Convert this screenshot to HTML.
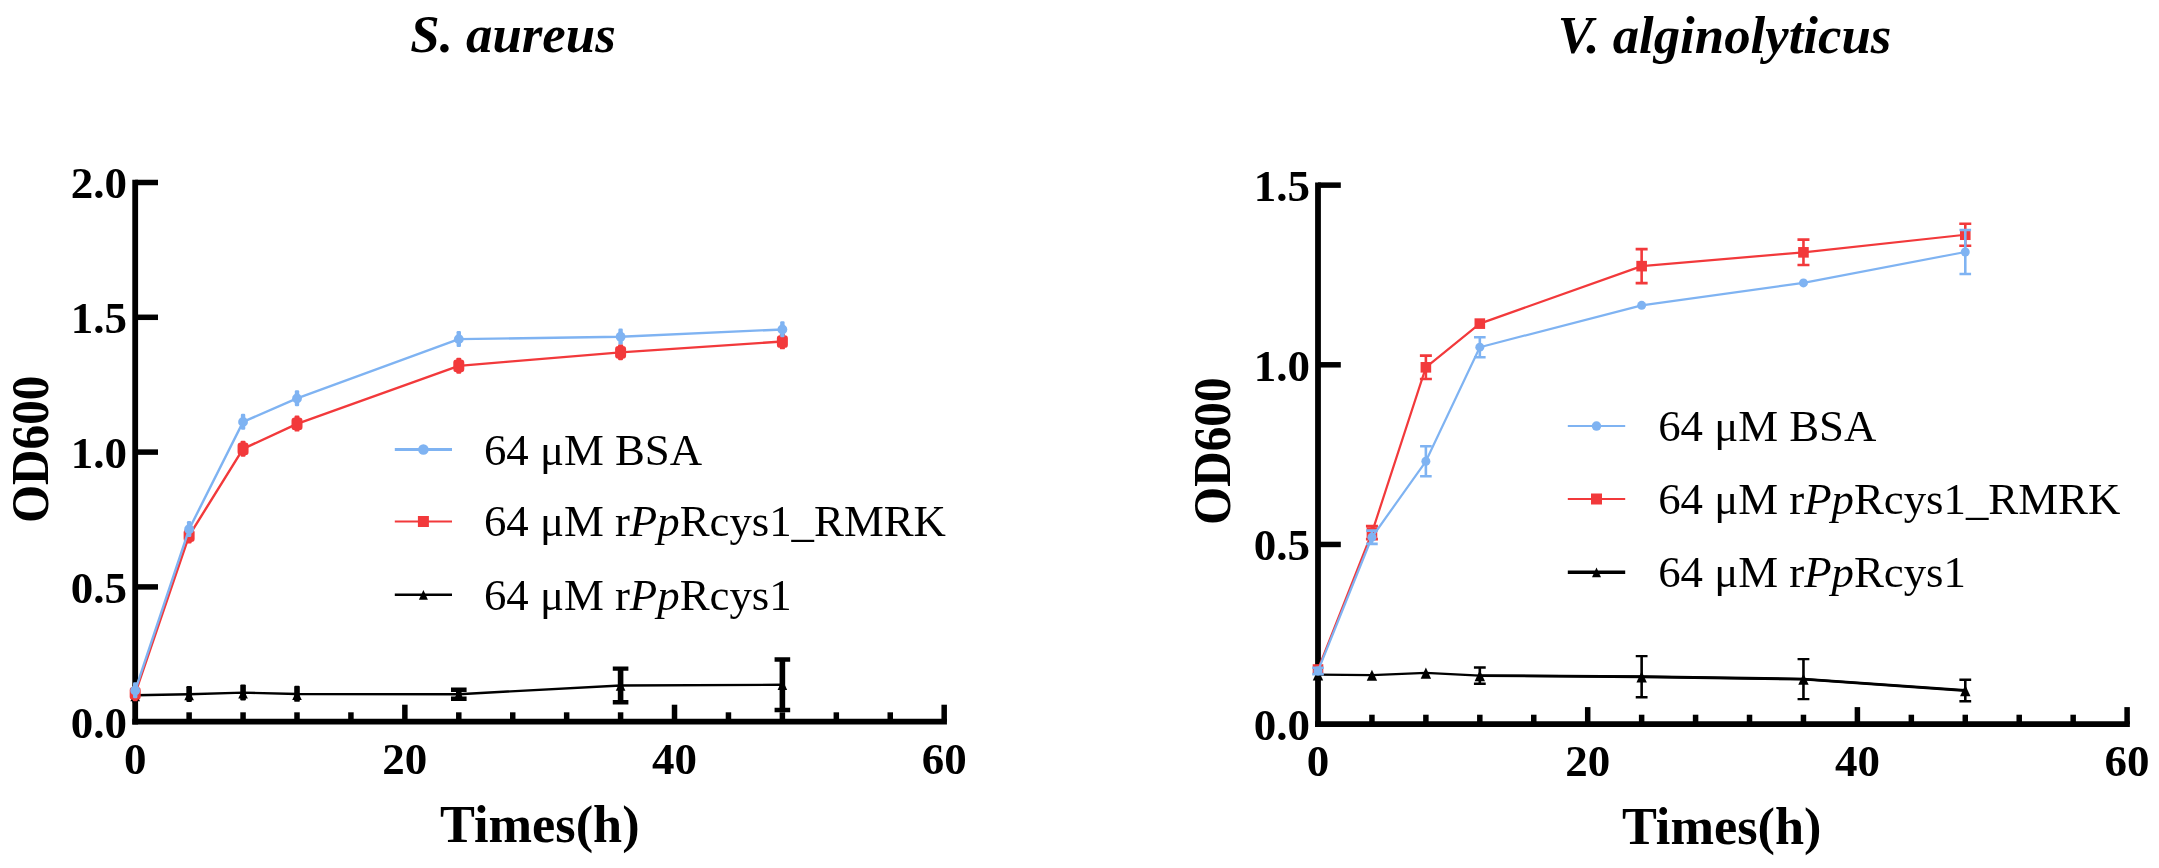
<!DOCTYPE html>
<html lang="en">
<head>
<meta charset="utf-8">
<title>Growth curves</title>
<style>
html,body{margin:0;padding:0;background:#fff;}
body{width:2159px;height:868px;overflow:hidden;}
svg{display:block;filter:blur(0.65px);}
svg text{font-family:"Liberation Serif","Times New Roman",serif;fill:#000;}
</style>
</head>
<body>
<svg width="2159" height="868" viewBox="0 0 2159 868">
<rect width="2159" height="868" fill="#fff"/>

<g id="left-chart">
<text x="513" y="52.2" font-size="52.8" font-weight="bold" font-style="italic" text-anchor="middle">S. aureus</text>
<line x1="135.2" y1="179.75" x2="135.2" y2="724.6" stroke="#000" stroke-width="5.8"/>
<line x1="132.3" y1="721.7" x2="946.93" y2="721.7" stroke="#000" stroke-width="5.8"/>
<line x1="135.2" y1="586.9" x2="158" y2="586.9" stroke="#000" stroke-width="5.5"/>
<line x1="135.2" y1="452.1" x2="158" y2="452.1" stroke="#000" stroke-width="5.5"/>
<line x1="135.2" y1="317.3" x2="158" y2="317.3" stroke="#000" stroke-width="5.5"/>
<line x1="135.2" y1="182.5" x2="158" y2="182.5" stroke="#000" stroke-width="5.5"/>
<line x1="189.13" y1="721.7" x2="189.13" y2="712.3" stroke="#000" stroke-width="5.5"/>
<line x1="243.06" y1="721.7" x2="243.06" y2="712.3" stroke="#000" stroke-width="5.5"/>
<line x1="297" y1="721.7" x2="297" y2="712.3" stroke="#000" stroke-width="5.5"/>
<line x1="350.93" y1="721.7" x2="350.93" y2="712.3" stroke="#000" stroke-width="5.5"/>
<line x1="404.86" y1="721.7" x2="404.86" y2="704.7" stroke="#000" stroke-width="5.5"/>
<line x1="458.79" y1="721.7" x2="458.79" y2="712.3" stroke="#000" stroke-width="5.5"/>
<line x1="512.72" y1="721.7" x2="512.72" y2="712.3" stroke="#000" stroke-width="5.5"/>
<line x1="566.66" y1="721.7" x2="566.66" y2="712.3" stroke="#000" stroke-width="5.5"/>
<line x1="620.59" y1="721.7" x2="620.59" y2="712.3" stroke="#000" stroke-width="5.5"/>
<line x1="674.52" y1="721.7" x2="674.52" y2="704.7" stroke="#000" stroke-width="5.5"/>
<line x1="728.45" y1="721.7" x2="728.45" y2="712.3" stroke="#000" stroke-width="5.5"/>
<line x1="782.38" y1="721.7" x2="782.38" y2="712.3" stroke="#000" stroke-width="5.5"/>
<line x1="836.32" y1="721.7" x2="836.32" y2="712.3" stroke="#000" stroke-width="5.5"/>
<line x1="890.25" y1="721.7" x2="890.25" y2="712.3" stroke="#000" stroke-width="5.5"/>
<line x1="944.18" y1="721.7" x2="944.18" y2="704.7" stroke="#000" stroke-width="5.5"/>
<polyline points="135.2,695.28 189.13,694.2 243.06,692.58 297,694.07 458.79,694.2 620.59,685.44 782.38,684.76" fill="none" stroke="#000000" stroke-width="2.4" stroke-linejoin="round"/>
<rect x="132.4" y="687.08" width="5.6" height="16" rx="1.2" fill="#000000"/><path d="M135.2 691.28L140 701.28H130.4Z" fill="#000000"/>
<rect x="186.33" y="686" width="5.6" height="16" rx="1.2" fill="#000000"/><path d="M189.13 690.2L193.93 700.2H184.33Z" fill="#000000"/>
<rect x="240.26" y="684.38" width="5.6" height="16" rx="1.2" fill="#000000"/><path d="M243.06 688.58L247.86 698.58H238.26Z" fill="#000000"/>
<rect x="294.2" y="685.87" width="5.6" height="16" rx="1.2" fill="#000000"/><path d="M297 690.07L301.8 700.07H292.2Z" fill="#000000"/>
<path d="M458.79 689.7V698.7" fill="none" stroke="#000000" stroke-width="5.6"/><path d="M450.99 689.7H466.59M450.99 698.7H466.59" fill="none" stroke="#000000" stroke-width="4.4"/>
<path d="M458.79 689.21L463.59 699.48H453.99Z" fill="#000000"/>
<path d="M620.59 668.64V702.24" fill="none" stroke="#000000" stroke-width="5.6"/><path d="M612.79 668.64H628.39M612.79 702.24H628.39" fill="none" stroke="#000000" stroke-width="4.4"/>
<path d="M620.59 680.45L625.39 690.72H615.79Z" fill="#000000"/>
<path d="M782.38 659.56V709.96" fill="none" stroke="#000000" stroke-width="5.6"/><path d="M774.58 659.56H790.18M774.58 709.96H790.18" fill="none" stroke="#000000" stroke-width="4.4"/>
<path d="M782.38 679.77L787.18 690.04H777.58Z" fill="#000000"/>
<polyline points="135.2,693.39 189.13,535.68 243.06,448.86 297,423.79 458.79,365.83 620.59,352.35 782.38,341.56" fill="none" stroke="#f2393b" stroke-width="2.4" stroke-linejoin="round"/>
<rect x="132.7" y="685.19" width="5" height="16" rx="1.2" fill="#f2393b"/><rect x="129.7" y="687.09" width="11" height="12.6" rx="3.2" fill="#f2393b"/>
<rect x="186.63" y="527.48" width="5" height="16" rx="1.2" fill="#f2393b"/><rect x="183.63" y="529.38" width="11" height="12.6" rx="3.2" fill="#f2393b"/>
<rect x="240.56" y="440.66" width="5" height="16" rx="1.2" fill="#f2393b"/><rect x="237.56" y="442.56" width="11" height="12.6" rx="3.2" fill="#f2393b"/>
<rect x="294.5" y="415.59" width="5" height="16" rx="1.2" fill="#f2393b"/><rect x="291.5" y="417.49" width="11" height="12.6" rx="3.2" fill="#f2393b"/>
<rect x="456.29" y="357.63" width="5" height="16" rx="1.2" fill="#f2393b"/><rect x="453.29" y="359.53" width="11" height="12.6" rx="3.2" fill="#f2393b"/>
<rect x="618.09" y="344.15" width="5" height="16" rx="1.2" fill="#f2393b"/><rect x="615.09" y="346.05" width="11" height="12.6" rx="3.2" fill="#f2393b"/>
<rect x="779.88" y="333.36" width="5" height="16" rx="1.2" fill="#f2393b"/><rect x="776.88" y="335.26" width="11" height="12.6" rx="3.2" fill="#f2393b"/>
<polyline points="135.2,690.43 189.13,529.21 243.06,421.9 297,398.45 458.79,339.14 620.59,336.71 782.38,329.43" fill="none" stroke="#7fb3f2" stroke-width="2.4" stroke-linejoin="round"/>
<rect x="133" y="682.23" width="4.4" height="16" rx="1.2" fill="#7fb3f2"/><circle cx="135.2" cy="690.43" r="4.9" fill="#7fb3f2"/>
<rect x="186.93" y="521.01" width="4.4" height="16" rx="1.2" fill="#7fb3f2"/><circle cx="189.13" cy="529.21" r="4.9" fill="#7fb3f2"/>
<rect x="240.86" y="413.7" width="4.4" height="16" rx="1.2" fill="#7fb3f2"/><circle cx="243.06" cy="421.9" r="4.9" fill="#7fb3f2"/>
<rect x="294.8" y="390.25" width="4.4" height="16" rx="1.2" fill="#7fb3f2"/><circle cx="297" cy="398.45" r="4.9" fill="#7fb3f2"/>
<rect x="456.59" y="330.94" width="4.4" height="16" rx="1.2" fill="#7fb3f2"/><circle cx="458.79" cy="339.14" r="4.9" fill="#7fb3f2"/>
<rect x="618.39" y="328.51" width="4.4" height="16" rx="1.2" fill="#7fb3f2"/><circle cx="620.59" cy="336.71" r="4.9" fill="#7fb3f2"/>
<rect x="780.18" y="321.23" width="4.4" height="16" rx="1.2" fill="#7fb3f2"/><circle cx="782.38" cy="329.43" r="4.9" fill="#7fb3f2"/>
<text x="127" y="737.5" font-size="45" font-weight="bold" text-anchor="end">0.0</text>
<text x="127" y="602.7" font-size="45" font-weight="bold" text-anchor="end">0.5</text>
<text x="127" y="467.9" font-size="45" font-weight="bold" text-anchor="end">1.0</text>
<text x="127" y="333.1" font-size="45" font-weight="bold" text-anchor="end">1.5</text>
<text x="127" y="198.3" font-size="45" font-weight="bold" text-anchor="end">2.0</text>
<text x="135.2" y="773.6" font-size="45" font-weight="bold" text-anchor="middle">0</text>
<text x="404.86" y="773.6" font-size="45" font-weight="bold" text-anchor="middle">20</text>
<text x="674.52" y="773.6" font-size="45" font-weight="bold" text-anchor="middle">40</text>
<text x="944.18" y="773.6" font-size="45" font-weight="bold" text-anchor="middle">60</text>
<text x="539.8" y="841.6" font-size="52.3" font-weight="bold" text-anchor="middle">Times(h)</text>
<text transform="translate(48 449.4) rotate(-90) scale(0.936 1)" font-size="52.5" font-weight="bold" text-anchor="middle">OD600</text>
<line x1="394.8" y1="449.5" x2="452" y2="449.5" stroke="#7fb3f2" stroke-width="3"/>
<circle cx="423.4" cy="449.5" r="5.25" fill="#7fb3f2"/>
<text x="483.9" y="464.5" font-size="44.8">64 μM BSA</text>
<line x1="394.8" y1="521.5" x2="452" y2="521.5" stroke="#f2393b" stroke-width="2.2"/>
<rect x="417.9" y="516" width="11" height="11" fill="#f2393b"/>
<text x="483.9" y="536.3" font-size="44.8">64 μM r<tspan font-style="italic">Pp</tspan>Rcys1_RMRK</text>
<line x1="394.8" y1="594.8" x2="452" y2="594.8" stroke="#000000" stroke-width="2.6"/>
<path d="M423.4 590.12L427.9 599.75H418.9Z" fill="#000000"/>
<text x="483.9" y="610.2" font-size="44.8">64 μM r<tspan font-style="italic">Pp</tspan>Rcys1</text>
</g>
<g id="right-chart">
<text x="1724.6" y="52.5" font-size="52.8" font-weight="bold" font-style="italic" text-anchor="middle">V. alginolyticus</text>
<line x1="1318" y1="182.4" x2="1318" y2="727" stroke="#000" stroke-width="5.8"/>
<line x1="1315.1" y1="724.1" x2="2129.85" y2="724.1" stroke="#000" stroke-width="5.8"/>
<line x1="1318" y1="544.45" x2="1340.8" y2="544.45" stroke="#000" stroke-width="5.5"/>
<line x1="1318" y1="364.8" x2="1340.8" y2="364.8" stroke="#000" stroke-width="5.5"/>
<line x1="1318" y1="185.15" x2="1340.8" y2="185.15" stroke="#000" stroke-width="5.5"/>
<line x1="1371.94" y1="724.1" x2="1371.94" y2="714.7" stroke="#000" stroke-width="5.5"/>
<line x1="1425.88" y1="724.1" x2="1425.88" y2="714.7" stroke="#000" stroke-width="5.5"/>
<line x1="1479.82" y1="724.1" x2="1479.82" y2="714.7" stroke="#000" stroke-width="5.5"/>
<line x1="1533.76" y1="724.1" x2="1533.76" y2="714.7" stroke="#000" stroke-width="5.5"/>
<line x1="1587.7" y1="724.1" x2="1587.7" y2="707.1" stroke="#000" stroke-width="5.5"/>
<line x1="1641.64" y1="724.1" x2="1641.64" y2="714.7" stroke="#000" stroke-width="5.5"/>
<line x1="1695.58" y1="724.1" x2="1695.58" y2="714.7" stroke="#000" stroke-width="5.5"/>
<line x1="1749.52" y1="724.1" x2="1749.52" y2="714.7" stroke="#000" stroke-width="5.5"/>
<line x1="1803.46" y1="724.1" x2="1803.46" y2="714.7" stroke="#000" stroke-width="5.5"/>
<line x1="1857.4" y1="724.1" x2="1857.4" y2="707.1" stroke="#000" stroke-width="5.5"/>
<line x1="1911.34" y1="724.1" x2="1911.34" y2="714.7" stroke="#000" stroke-width="5.5"/>
<line x1="1965.28" y1="724.1" x2="1965.28" y2="714.7" stroke="#000" stroke-width="5.5"/>
<line x1="2019.22" y1="724.1" x2="2019.22" y2="714.7" stroke="#000" stroke-width="5.5"/>
<line x1="2073.16" y1="724.1" x2="2073.16" y2="714.7" stroke="#000" stroke-width="5.5"/>
<line x1="2127.1" y1="724.1" x2="2127.1" y2="707.1" stroke="#000" stroke-width="5.5"/>
<polyline points="1479.82,675.59 1641.64,676.71 1803.46,679.12 1965.28,690.51" fill="none" stroke="#000" stroke-width="2.9"/>
<polyline points="1318,674.7 1371.94,675.06 1425.88,672.97 1479.82,675.59 1641.64,676.71 1803.46,679.12 1965.28,690.51" fill="none" stroke="#000000" stroke-width="2.2" stroke-linejoin="round"/>
<path d="M1318 669.29L1323.2 680.42H1312.8Z" fill="#000000"/>
<path d="M1371.94 669.65L1377.14 680.78H1366.74Z" fill="#000000"/>
<path d="M1425.88 667.56L1431.08 678.69H1420.68Z" fill="#000000"/>
<path d="M1479.82 667.49V683.69" fill="none" stroke="#000000" stroke-width="2.6"/><path d="M1473.92 667.49H1485.72M1473.92 683.69H1485.72" fill="none" stroke="#000000" stroke-width="2.4"/>
<path d="M1479.82 670.19L1485.02 681.31H1474.62Z" fill="#000000"/>
<path d="M1641.64 656.11V697.31" fill="none" stroke="#000000" stroke-width="2.6"/><path d="M1635.74 656.11H1647.54M1635.74 697.31H1647.54" fill="none" stroke="#000000" stroke-width="2.4"/>
<path d="M1641.64 671.3L1646.84 682.43H1636.44Z" fill="#000000"/>
<path d="M1803.46 659.12V699.12" fill="none" stroke="#000000" stroke-width="2.6"/><path d="M1797.56 659.12H1809.36M1797.56 699.12H1809.36" fill="none" stroke="#000000" stroke-width="2.4"/>
<path d="M1803.46 673.71L1808.66 684.84H1798.26Z" fill="#000000"/>
<path d="M1965.28 679.81V701.21" fill="none" stroke="#000000" stroke-width="2.6"/><path d="M1959.38 679.81H1971.18M1959.38 701.21H1971.18" fill="none" stroke="#000000" stroke-width="2.4"/>
<path d="M1965.28 685.1L1970.48 696.23H1960.08Z" fill="#000000"/>
<polyline points="1318,669.49 1371.94,532.59 1425.88,367.32 1479.82,323.62 1641.64,266.14 1803.46,252.34 1965.28,234.73" fill="none" stroke="#f2393b" stroke-width="2.2" stroke-linejoin="round"/>
<rect x="1312.7" y="664.19" width="10.6" height="10.6" fill="#f2393b"/>
<path d="M1371.94 526.09V539.09" fill="none" stroke="#f2393b" stroke-width="2.6"/><path d="M1365.94 526.09H1377.94M1365.94 539.09H1377.94" fill="none" stroke="#f2393b" stroke-width="2.6"/>
<rect x="1366.64" y="527.29" width="10.6" height="10.6" fill="#f2393b"/>
<path d="M1425.88 355.62V379.02" fill="none" stroke="#f2393b" stroke-width="2.6"/><path d="M1419.88 355.62H1431.88M1419.88 379.02H1431.88" fill="none" stroke="#f2393b" stroke-width="2.6"/>
<rect x="1420.58" y="362.02" width="10.6" height="10.6" fill="#f2393b"/>
<rect x="1474.52" y="318.32" width="10.6" height="10.6" fill="#f2393b"/>
<path d="M1641.64 249.14V283.14" fill="none" stroke="#f2393b" stroke-width="2.6"/><path d="M1635.64 249.14H1647.64M1635.64 283.14H1647.64" fill="none" stroke="#f2393b" stroke-width="2.6"/>
<rect x="1636.34" y="260.84" width="10.6" height="10.6" fill="#f2393b"/>
<path d="M1803.46 239.64V265.04" fill="none" stroke="#f2393b" stroke-width="2.6"/><path d="M1797.46 239.64H1809.46M1797.46 265.04H1809.46" fill="none" stroke="#f2393b" stroke-width="2.6"/>
<rect x="1798.16" y="247.04" width="10.6" height="10.6" fill="#f2393b"/>
<path d="M1965.28 223.73V245.73" fill="none" stroke="#f2393b" stroke-width="2.6"/><path d="M1959.28 223.73H1971.28M1959.28 245.73H1971.28" fill="none" stroke="#f2393b" stroke-width="2.6"/>
<rect x="1959.98" y="229.43" width="10.6" height="10.6" fill="#f2393b"/>
<polyline points="1318,670.92 1371.94,537.26 1425.88,461.27 1479.82,347.19 1641.64,305.34 1803.46,282.88 1965.28,251.98" fill="none" stroke="#7fb3f2" stroke-width="2.2" stroke-linejoin="round"/>
<path d="M1318 667.72V674.12" fill="none" stroke="#7fb3f2" stroke-width="2.6"/><path d="M1312.2 667.72H1323.8M1312.2 674.12H1323.8" fill="none" stroke="#7fb3f2" stroke-width="2.6"/>
<circle cx="1318" cy="670.92" r="4.5" fill="#7fb3f2"/>
<path d="M1371.94 530.66V543.86" fill="none" stroke="#7fb3f2" stroke-width="2.6"/><path d="M1366.14 530.66H1377.74M1366.14 543.86H1377.74" fill="none" stroke="#7fb3f2" stroke-width="2.6"/>
<circle cx="1371.94" cy="537.26" r="4.5" fill="#7fb3f2"/>
<path d="M1425.88 446.27V476.27" fill="none" stroke="#7fb3f2" stroke-width="2.6"/><path d="M1420.08 446.27H1431.68M1420.08 476.27H1431.68" fill="none" stroke="#7fb3f2" stroke-width="2.6"/>
<circle cx="1425.88" cy="461.27" r="4.5" fill="#7fb3f2"/>
<path d="M1479.82 337.19V357.19" fill="none" stroke="#7fb3f2" stroke-width="2.6"/><path d="M1474.02 337.19H1485.62M1474.02 357.19H1485.62" fill="none" stroke="#7fb3f2" stroke-width="2.6"/>
<circle cx="1479.82" cy="347.19" r="4.5" fill="#7fb3f2"/>
<circle cx="1641.64" cy="305.34" r="4.5" fill="#7fb3f2"/>
<circle cx="1803.46" cy="282.88" r="4.5" fill="#7fb3f2"/>
<path d="M1965.28 229.98V273.98" fill="none" stroke="#7fb3f2" stroke-width="2.6"/><path d="M1959.48 229.98H1971.08M1959.48 273.98H1971.08" fill="none" stroke="#7fb3f2" stroke-width="2.6"/>
<circle cx="1965.28" cy="251.98" r="4.5" fill="#7fb3f2"/>
<text x="1309.9" y="740" font-size="45" font-weight="bold" text-anchor="end">0.0</text>
<text x="1309.9" y="560.35" font-size="45" font-weight="bold" text-anchor="end">0.5</text>
<text x="1309.9" y="380.7" font-size="45" font-weight="bold" text-anchor="end">1.0</text>
<text x="1309.9" y="201.05" font-size="45" font-weight="bold" text-anchor="end">1.5</text>
<text x="1318" y="775.7" font-size="45" font-weight="bold" text-anchor="middle">0</text>
<text x="1587.7" y="775.7" font-size="45" font-weight="bold" text-anchor="middle">20</text>
<text x="1857.4" y="775.7" font-size="45" font-weight="bold" text-anchor="middle">40</text>
<text x="2127.1" y="775.7" font-size="45" font-weight="bold" text-anchor="middle">60</text>
<text x="1721.7" y="844.2" font-size="52.3" font-weight="bold" text-anchor="middle">Times(h)</text>
<text transform="translate(1230 451.2) rotate(-90) scale(0.936 1)" font-size="52.5" font-weight="bold" text-anchor="middle">OD600</text>
<line x1="1567.8" y1="426.1" x2="1625.2" y2="426.1" stroke="#7fb3f2" stroke-width="2"/>
<circle cx="1596.5" cy="426.1" r="4.75" fill="#7fb3f2"/>
<text x="1658.2" y="441.3" font-size="44.8">64 μM BSA</text>
<line x1="1567.8" y1="499" x2="1625.2" y2="499" stroke="#f2393b" stroke-width="2.2"/>
<rect x="1591" y="493.5" width="11" height="11" fill="#f2393b"/>
<text x="1658.2" y="514" font-size="44.8">64 μM r<tspan font-style="italic">Pp</tspan>Rcys1_RMRK</text>
<line x1="1567.8" y1="572.3" x2="1625.2" y2="572.3" stroke="#000000" stroke-width="3.6"/>
<path d="M1596.5 567.62L1601 577.25H1592Z" fill="#000000"/>
<text x="1658.2" y="587" font-size="44.8">64 μM r<tspan font-style="italic">Pp</tspan>Rcys1</text>
</g>
</svg>
</body>
</html>
